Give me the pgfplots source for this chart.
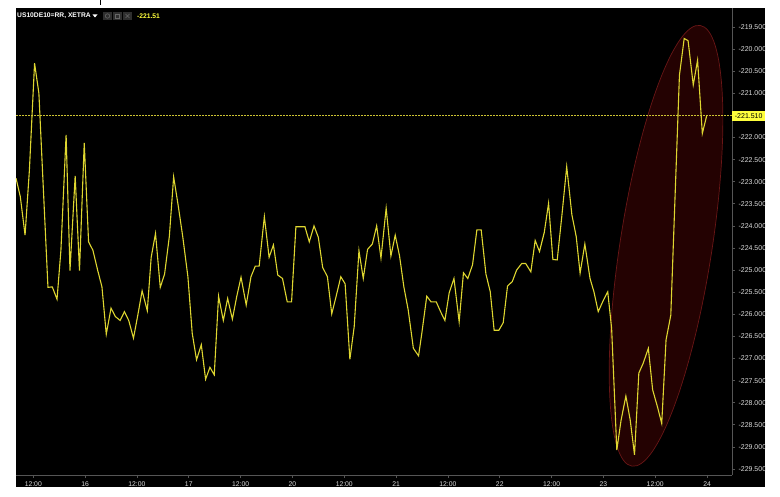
\documentclass[border=0pt]{standalone}
\usepackage{fontspec}
\setmainfont{Liberation Sans}
\usepackage{pgfplots}
\pgfplotsset{compat=1.18}
\definecolor{ln}{RGB}{222,214,48}
\definecolor{dotc}{RGB}{205,195,50}
\definecolor{lbl}{RGB}{220,220,220}
\definecolor{axg}{RGB}{85,85,85}
\definecolor{ellf}{RGB}{36,2,2}
\definecolor{elld}{RGB}{105,22,22}
\definecolor{ybox}{RGB}{255,255,60}
\begin{document}
\begin{tikzpicture}[x=1pt,y=1pt]
\useasboundingbox (0,0) rectangle (780,496);
\fill[white] (0,0) rectangle (780,496);
\fill[black] (16,9) rectangle (765,488);
\fill[black] (100,491) rectangle (101.3,496);
\begin{axis}[
  at={(16pt,21pt)}, anchor=south west,
  scale only axis, width=716pt, height=467pt,
  xmin=8, xmax=173.77, ymin=-229.636, ymax=-219.07,
  axis x line*=bottom, axis y line*=right,
  axis line style={axg, line width=0.8pt},
  tick style={axg, line width=0.6pt},
  major tick length=3pt, tick align=outside,
  scaled y ticks=false,
  xtick={12,24,36,48,60,72,84,96,108,120,132,144,156,168},
  xticklabels={12:00,16,12:00,17,12:00,20,12:00,21,12:00,22,12:00,23,12:00,24},
  ytick={-229.5,-229,-228.5,-228,-227.5,-227,-226.5,-226,-225.5,-225,-224.5,-224,-223.5,-223,-222.5,-222,-221,-220.5,-220,-219.5},
  yticklabel style={font=\fontsize{7}{8}\selectfont, text=lbl,
    /pgf/number format/fixed, /pgf/number format/fixed zerofill,
    /pgf/number format/precision=3, /pgf/number format/assume math mode=true},
  xticklabel style={font=\fontsize{6.8}{8}\selectfont, text=lbl},
]
\draw[fill=ellf, draw=elld, line width=0.7pt, shift={(axis cs:158.5,-224.45)}, rotate=81.2]
  (0pt,0pt) ellipse [x radius=223pt, y radius=46pt];
\draw[dotc, line width=1.1pt, dash pattern=on 1.6pt off 1.4pt]
  (axis cs:8,-221.51) -- (axis cs:173.77,-221.51);
\addplot[ln, line width=1.1pt, mark=none] coordinates {
(8.0,-222.92) (9.0,-223.34) (10.1,-224.21) (11.1,-222.74) (12.3,-220.32) (13.3,-221.00)
(15.4,-225.39) (16.4,-225.38) (17.5,-225.66) (18.4,-224.55) (19.6,-221.94) (20.5,-225.01)
(21.7,-222.87) (22.7,-225.01) (23.8,-222.12) (24.8,-224.36) (25.8,-224.55) (26.9,-225.00)
(27.9,-225.38) (28.9,-226.45) (30.0,-225.86) (31.0,-226.05) (32.1,-226.14) (33.1,-225.94)
(34.1,-226.14) (35.2,-226.54) (36.2,-226.02) (37.2,-225.47) (38.4,-225.92) (39.3,-224.71)
(40.3,-224.17) (41.4,-225.39) (42.4,-225.09) (43.5,-224.24) (44.5,-222.89) (45.6,-223.57)
(46.6,-224.24) (47.8,-225.15) (48.8,-226.43) (49.8,-227.03) (50.9,-226.69) (51.9,-227.47)
(52.9,-227.20) (53.9,-227.37) (54.9,-225.59) (56.0,-226.14) (57.0,-225.64) (58.1,-226.11)
(59.1,-225.60) (60.1,-225.16) (61.3,-225.79) (62.4,-225.15) (63.4,-224.91) (64.3,-224.91)
(65.5,-223.79) (66.6,-224.71) (67.6,-224.43) (68.6,-225.11) (69.7,-225.19) (70.8,-225.72)
(71.8,-225.72) (72.8,-224.02) (74.0,-224.02) (74.9,-224.02) (75.9,-224.36) (77.0,-224.00)
(78.0,-224.26) (79.0,-224.94) (80.1,-225.15) (81.1,-225.99) (82.1,-225.60) (83.2,-225.15)
(84.2,-225.31) (85.3,-227.02) (86.3,-226.28) (87.4,-224.56) (88.4,-225.19) (89.4,-224.53)
(90.5,-224.41) (91.5,-224.00) (92.5,-224.73) (93.7,-223.60) (94.8,-224.68) (95.8,-224.21)
(96.8,-224.68) (97.8,-225.38) (98.8,-225.90) (100.0,-226.77) (101.2,-226.94) (101.9,-226.47)
(103.1,-225.59) (104.1,-225.72) (105.3,-225.72) (106.3,-225.94) (107.3,-226.14) (108.3,-225.51)
(109.4,-225.19) (110.6,-226.17) (111.6,-225.06) (112.6,-225.19) (113.7,-224.88) (114.7,-224.09)
(115.7,-224.09) (116.8,-225.09) (117.8,-225.49) (118.7,-226.36) (119.8,-226.36) (120.8,-226.19)
(121.8,-225.36) (122.9,-225.26) (123.9,-225.00) (125.1,-224.85) (126.0,-224.85) (127.2,-225.04)
(128.2,-224.33) (129.2,-224.58) (130.3,-224.15) (131.3,-223.49) (132.3,-224.76) (133.3,-224.77)
(134.4,-223.75) (135.5,-222.66) (136.7,-223.75) (137.7,-224.24) (138.6,-225.07) (139.7,-224.41)
(140.9,-225.19) (141.8,-225.49) (142.8,-225.94) (144.0,-225.68) (145.0,-225.49) (145.9,-226.32)
(147.1,-229.07) (148.1,-228.39) (149.2,-227.85) (150.2,-228.39) (151.2,-229.18) (152.2,-227.33)
(153.2,-227.11) (154.4,-226.77) (155.4,-227.71) (156.5,-228.09) (157.5,-228.47) (158.5,-226.58)
(159.6,-226.02) (160.6,-223.30) (161.6,-220.59) (162.7,-219.76) (163.6,-219.81) (164.8,-220.81)
(165.8,-220.25) (166.9,-221.91) (167.9,-221.51)
};
\coordinate (lab) at (axis cs:173.77,-221.51);
\end{axis}
\node[fill=ybox, text=black, anchor=west, inner sep=0pt, minimum height=10pt,
  minimum width=33pt, font=\fontsize{7}{8}\selectfont] at (lab) {-221.510};
% header
\node[anchor=west, inner sep=0pt, text=white, font=\bfseries\fontsize{6.7}{8}\selectfont] at (17,480) {US10DE10=RR, XETRA};
\fill[white] (92.5,481.5) -- (97.5,481.5) -- (95,478.5) -- cycle;
\fill[black!82!white] (103,476) rectangle (112,484);
\fill[black!82!white] (113,476) rectangle (122,484);
\fill[black!82!white] (123,476) rectangle (132,484);
\draw[black!60!white, line width=0.6pt] (107.5,480) circle (2.2pt);
\draw[black!60!white, line width=0.6pt] (115.5,478) rectangle (119.5,482);
\draw[black!60!white, line width=0.6pt] (125.5,478) -- (129.5,482) (125.5,482) -- (129.5,478);
\node[anchor=west, inner sep=0pt, text=ybox, font=\bfseries\fontsize{6.7}{8}\selectfont] at (137,480) {-221.51};
\end{tikzpicture}
\end{document}
